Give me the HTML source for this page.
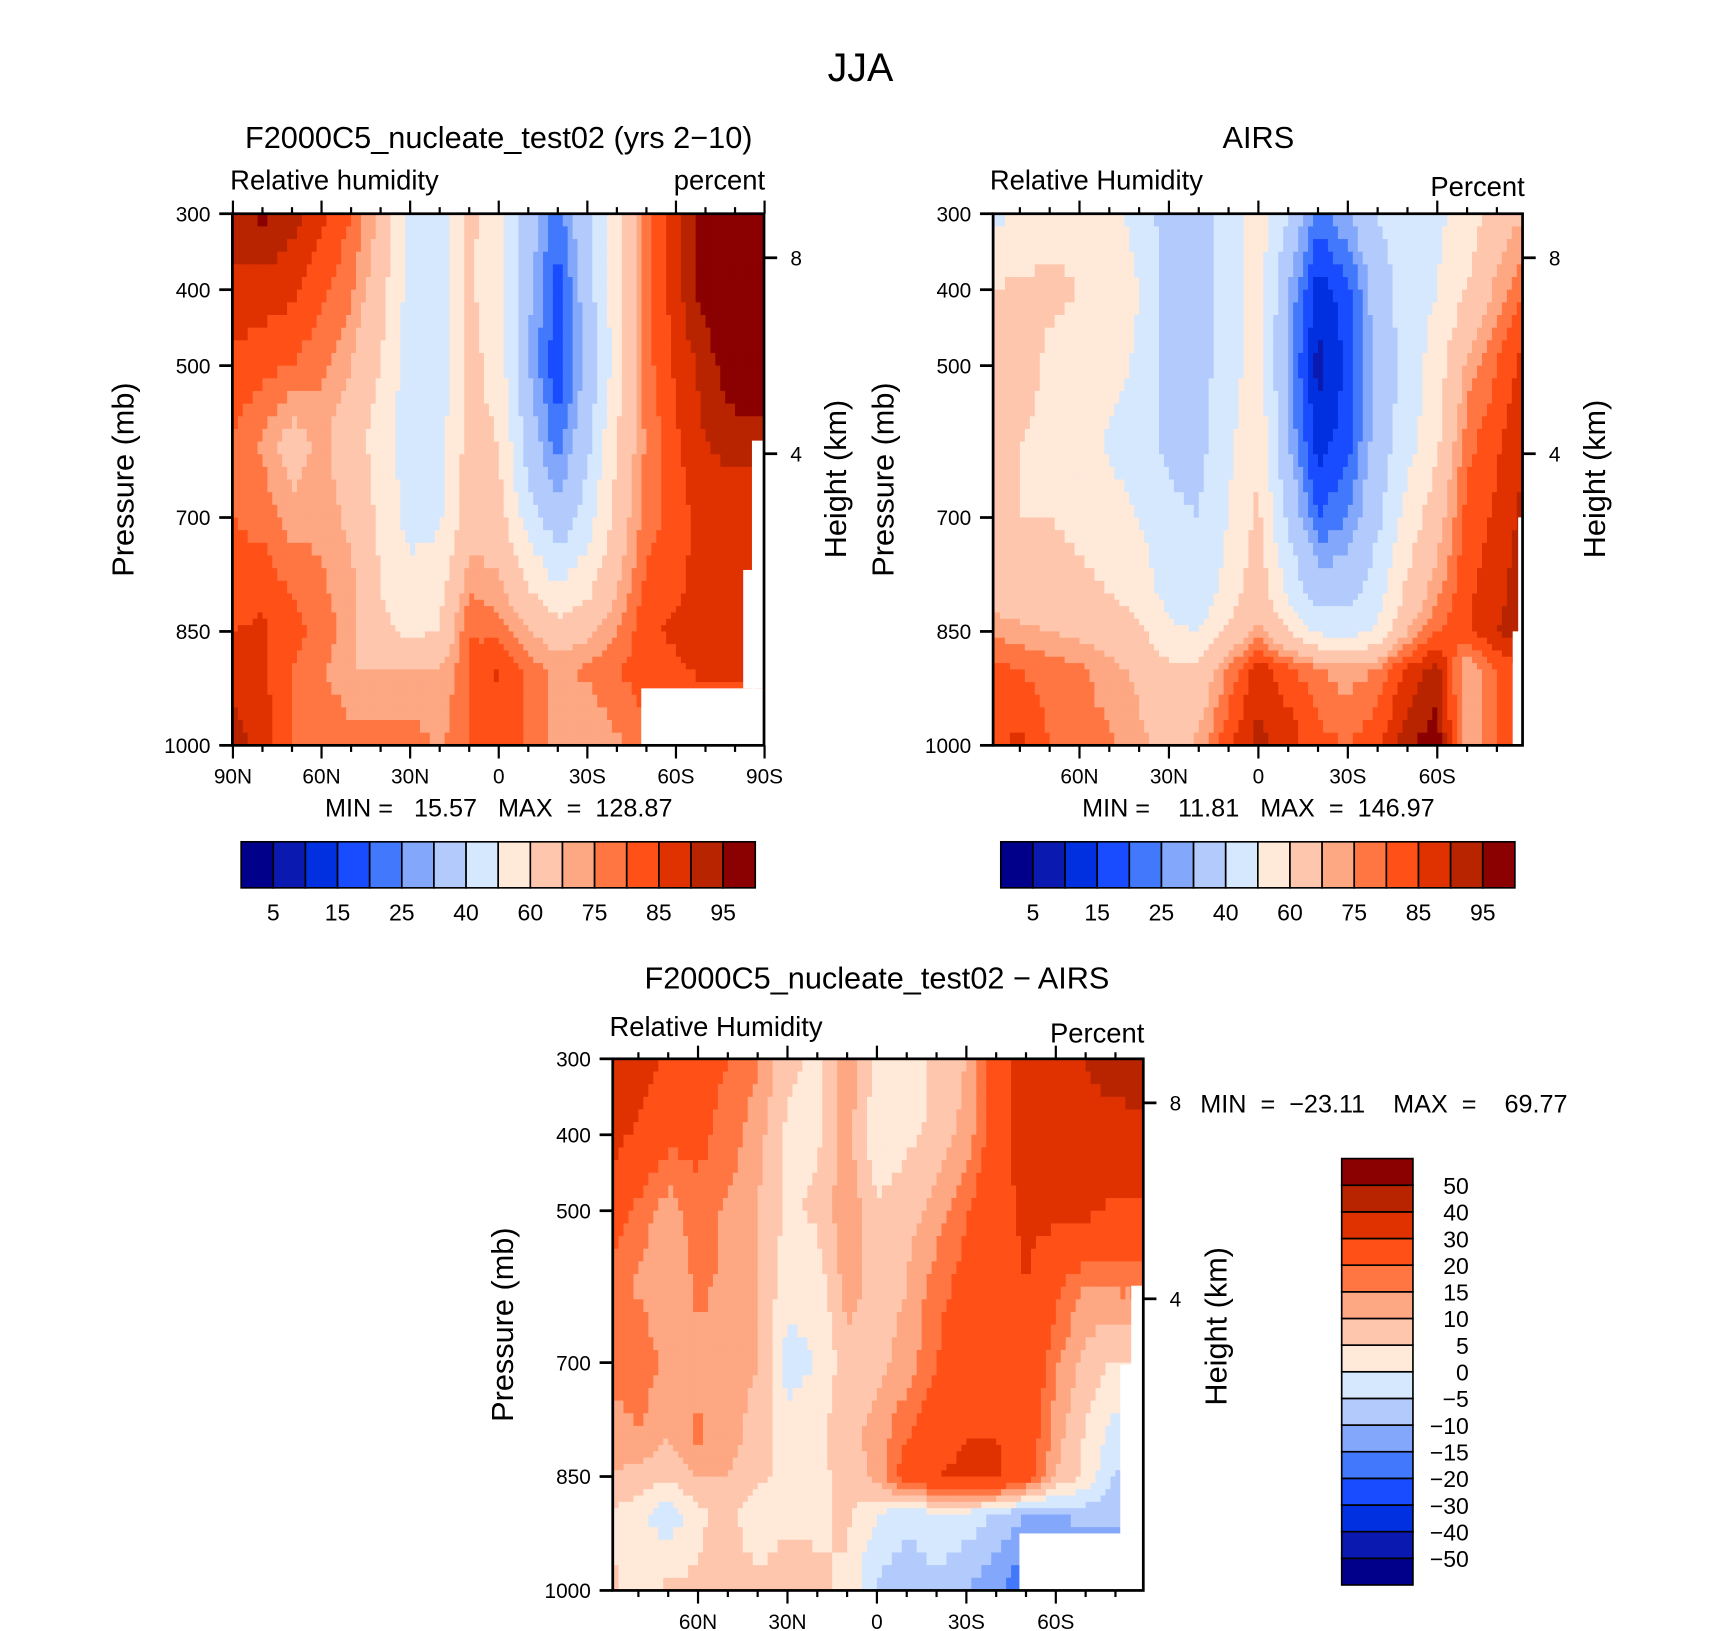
<!DOCTYPE html>
<html><head><meta charset="utf-8"><style>
html,body{margin:0;padding:0;background:#fff;}
svg{display:block;font-family:"Liberation Sans",sans-serif;}
svg text{white-space:pre;}
</style></head><body>
<svg id="fig" width="1710" height="1631" viewBox="0 0 1560 1488" preserveAspectRatio="none" xmlns="http://www.w3.org/2000/svg">
<rect width="1560" height="1488" fill="#fff"/>
<text x="785" y="74" font-size="36" text-anchor="middle">JJA</text>
<g id="layer"></g>
</svg>
<script>
const latitudes=[90,80,70,60,50,40,30,20,10,0,-10,-20,-30,-40,-50,-60,-70,-80,-90];
const pressures=[300,400,500,600,700,800,850,900,1000];
const colors=["#00008b","#0a1ab0","#0030e0","#1a4cff","#4278fb","#83a8fb","#b2cafc","#d6e8fd","#ffe9d9","#fec6ac","#fea783","#ff7642","#ff5018","#e03200","#b92400","#8b0000"];
const rhLevels=[5,10,15,20,25,30,40,50,60,70,75,80,85,90,95];
const rhLabels=["5","15","25","40","60","75","85","95"];
const diffLevels=[-50,-40,-30,-20,-15,-10,-5,0,5,10,15,20,30,40,50];
const diffLabels=["\u221250","\u221240","\u221230","\u221220","\u221215","\u221210","\u22125","0","5","10","15","20","30","40","50"];
const modelRH=[
[93,96,92,86,80,68,48,45,62,55,35,22,38,58,78,88,100,100,100],
[88,88,86,82,76,64,46,42,62,52,32,17,35,56,78,88,98,100,100],
[84,82,80,76,70,60,44,44,64,55,30,16,32,55,78,86,92,100,100],
[80,74,66,72,64,56,44,46,64,60,35,22,37,60,76,84,90,92,92],
[80,78,72,74,68,58,46,48,66,64,45,32,45,64,78,82,88,86,86],
[82,84,80,76,72,60,55,58,75,72,62,52,58,70,82,84,88,85,85],
[85,86,82,78,72,62,58,60,80,78,70,65,68,75,84,86,88,88,88],
[88,86,80,76,70,70,70,70,80,86,78,74,76,80,82,84,86,86,86],
[92,88,80,80,78,78,78,74,80,80,80,72,70,74,80,80,80,80,80]];
const airsRH=[
[45,52,56,58,56,45,36,36,45,55,40,22,30,40,45,48,55,65,70],
[60,62,62,60,58,50,36,35,45,55,30,12,18,35,45,50,60,72,80],
[64,64,58,55,55,48,36,35,46,55,28,8,16,32,44,55,72,80,88],
[62,60,58,55,48,44,38,37,48,58,30,12,18,34,46,58,78,84,90],
[62,60,60,58,55,50,42,40,50,62,38,20,25,38,54,66,82,86,92],
[66,64,64,62,60,56,46,42,55,66,48,35,36,46,62,74,84,88,94],
[74,72,70,68,66,62,52,50,62,72,60,48,46,52,70,80,84,90,94],
[82,80,78,76,72,68,62,62,76,88,82,76,72,76,86,92,70,80,85],
[84,86,80,78,76,72,66,72,84,92,88,82,80,84,94,98,70,80,86]];
const diffRH=[
[42,36,28,22,20,16,6,4,14,4,2,6,10,26,34,36,40,44,48],
[34,28,22,22,18,12,4,4,12,0,4,6,12,24,36,34,38,36,36],
[24,18,12,18,14,10,4,6,14,6,8,12,20,26,32,32,32,28,28],
[18,14,10,16,14,10,2,2,12,8,10,18,22,26,30,22,14,16,16],
[16,20,12,14,12,10,-2,0,8,8,12,20,26,30,28,16,8,4,4],
[12,14,10,16,12,8,2,4,8,12,20,26,30,30,26,12,4,-2,-2],
[10,8,6,10,10,6,4,4,6,12,24,30,32,32,24,10,4,-6,-6],
[4,2,-4,4,6,2,4,4,6,0,-4,-2,-2,-6,-10,-10,-8,-8,-8],
[6,4,6,6,8,6,8,6,4,-6,-8,-6,-10,-14,-20,-20,-20,-20,-20]];

const NS="http://www.w3.org/2000/svg";
const layer=document.getElementById('layer');
function mk(tag,attrs,parent){const e=document.createElementNS(NS,tag);for(const k in attrs)e.setAttribute(k,attrs[k]);(parent||layer).appendChild(e);return e;}
function txt(s,x,y,size,anchor,parent,rot){const t=mk('text',{x:x,y:y,'font-size':size,'text-anchor':anchor||'start'},parent);if(rot)t.setAttribute('transform','rotate(-90 '+x+' '+y+')');t.textContent=s;return t;}
function colorFor(v,levels){let i=0;while(i<levels.length&&v>=levels[i])i++;return colors[i];}

function panel(cfg){
  const g=mk('g',{});
  
  
  const x0=cfg.x0,x1=cfg.x1,y0=cfg.y0,y1=cfg.y1;
  const yP=p=>y0+(p-300)/700*(y1-y0);
  const xL=lat=>cfg.cx-lat*cfg.k;
  const clipId=cfg.name+'-clip';
  const cp=mk('clipPath',{id:clipId},g);mk('rect',{x:x0,y:y0,width:x1-x0,height:y1-y0},cp);
  const f=mk('g',{'clip-path':'url(#'+clipId+')'},g);
  
  
  const data=cfg.data,N=6;
  for(let j=0;j<pressures.length-1;j++){
    for(let i=0;i<latitudes.length-1;i++){
      const ya=yP(pressures[j]),yb=yP(pressures[j+1]);
      const xa=xL(latitudes[i]),xb=xL(latitudes[i+1]);
      for(let a=0;a<N;a++)for(let b=0;b<N;b++){
        const u=(b+0.5)/N,v=(a+0.5)/N;
        const val=(1-u)*(1-v)*data[j][i]+u*(1-v)*data[j][i+1]+(1-u)*v*data[j+1][i]+u*v*data[j+1][i+1];
        mk('rect',{x:xa+(xb-xa)*b/N,y:ya+(yb-ya)*a/N,width:(xb-xa)/N+0.6,height:(yb-ya)/N+0.6,fill:colorFor(val,cfg.levels)},f);
      }
    }
  }
  (cfg.blank||[]).forEach(r=>mk('rect',{x:r[0],y:r[1],width:r[2],height:r[3],fill:'#fff'},f));
  mk('rect',{x:x0,y:y0,width:x1-x0,height:y1-y0,fill:'none',stroke:'#000','stroke-width':2.5},g);
  [300,400,500,700,850,1000].forEach(p=>{const y=yP(p);mk('line',{x1:x0-12,y1:y,x2:x0,y2:y,stroke:'#000','stroke-width':2.5},g);txt(String(p),x0-20,y+7,19,'end',g);});
  [[358,'8'],[616,'4']].forEach(h=>{const y=yP(h[0]);mk('line',{x1:x1,y1:y,x2:x1+12,y2:y,stroke:'#000','stroke-width':2.5},g);txt(h[1],x1+24,y+7,19,'start',g);});
  for(let lat=-90;lat<=90;lat+=10){const x=xL(lat);if(x<x0-1||x>x1+1)continue;const major=lat%30===0;const L=major?12:6;
    mk('line',{x1:x,y1:y1,x2:x,y2:y1+L,stroke:'#000','stroke-width':2},g);
    mk('line',{x1:x,y1:y0,x2:x,y2:y0-L,stroke:'#000','stroke-width':2},g);
    if(major){const lab=lat===0?'0':Math.abs(lat)+(lat>0?'N':'S');txt(lab,x,y1+35,19,'middle',g);}}
  txt('Pressure (mb)',cfg.px,(y0+y1)/2,28,'middle',g,true);
  txt('Height (km)',cfg.hx,cfg.hy,28,'middle',g,true);
  return g;
}
panel({name:'model-panel',x0:212,x1:697,y0:195,y1:680,cx:455,k:485/180,data:modelRH,levels:rhLevels,px:122,hx:772,hy:437,
  blank:[[585,628,112,52],[686,402,11,226],[678,520,10,108]]});
panel({name:'airs-panel',x0:906,x1:1389,y0:195,y1:680,cx:1148,k:81.6/30,data:airsRH,levels:rhLevels,px:815,hx:1464,hy:437,
  blank:[[1385,472,4,208],[1380,576,9,104]]});
panel({name:'diff-panel',x0:559,x1:1043,y0:966,y1:1451,cx:800,k:81.6/30,data:diffRH,levels:diffLevels,px:468,hx:1119,hy:1210,
  blank:[[930,1399,113,52],[1032,1173,11,226],[1022,1245,12,154]]});

function hbar(name,x0,y0,w,h){const g=mk('g',{});
  const bw=w/16;colors.forEach((c,i)=>mk('rect',{x:x0+i*bw,y:y0,width:bw,height:h,fill:c,stroke:'#000','stroke-width':1.5},g));
  rhLabels.forEach((l,i)=>txt(l,x0+(2*i+1)*bw,y0+h+30,21,'middle',g));}
hbar('model-colorbar',220,768,469,42);
hbar('airs-colorbar',913,768,469,42);
(function(){const g=mk('g',{});
  const x0=1224,y0=1057,w=65,h=389,bh=h/16;
  colors.forEach((c,i)=>mk('rect',{x:x0,y:y0+(15-i)*bh,width:w,height:bh,fill:c,stroke:'#000','stroke-width':1.5},g));
  diffLabels.forEach((l,i)=>txt(l,1340,y0+(15-i)*bh+8,21,'end',g));})();

function label(name,s,x,y,size,anchor){const t=txt(s,x,y,size,anchor);}
label('model-title','F2000C5_nucleate_test02 (yrs 2\u221210)',455,135,28,'middle');
label('model-variable','Relative humidity',210,173,25,'start');
label('model-units','percent',698,173,25,'end');
label('model-minmax','MIN =   15.57   MAX  =  128.87',455,745,23,'middle');
label('airs-title','AIRS',1148,135,28,'middle');
label('airs-variable','Relative Humidity',903,173,25,'start');
label('airs-units','Percent',1391,179,25,'end');
label('airs-minmax','MIN =    11.81   MAX  =  146.97',1148,745,23,'middle');
label('diff-title','F2000C5_nucleate_test02 \u2212 AIRS',800,902,28,'middle');
label('diff-variable','Relative Humidity',556,945,25,'start');
label('diff-units','Percent',1044,951,25,'end');
label('diff-minmax','MIN  =  \u221223.11    MAX  =    69.77',1095,1015,23,'start');
</script>
</body></html>
